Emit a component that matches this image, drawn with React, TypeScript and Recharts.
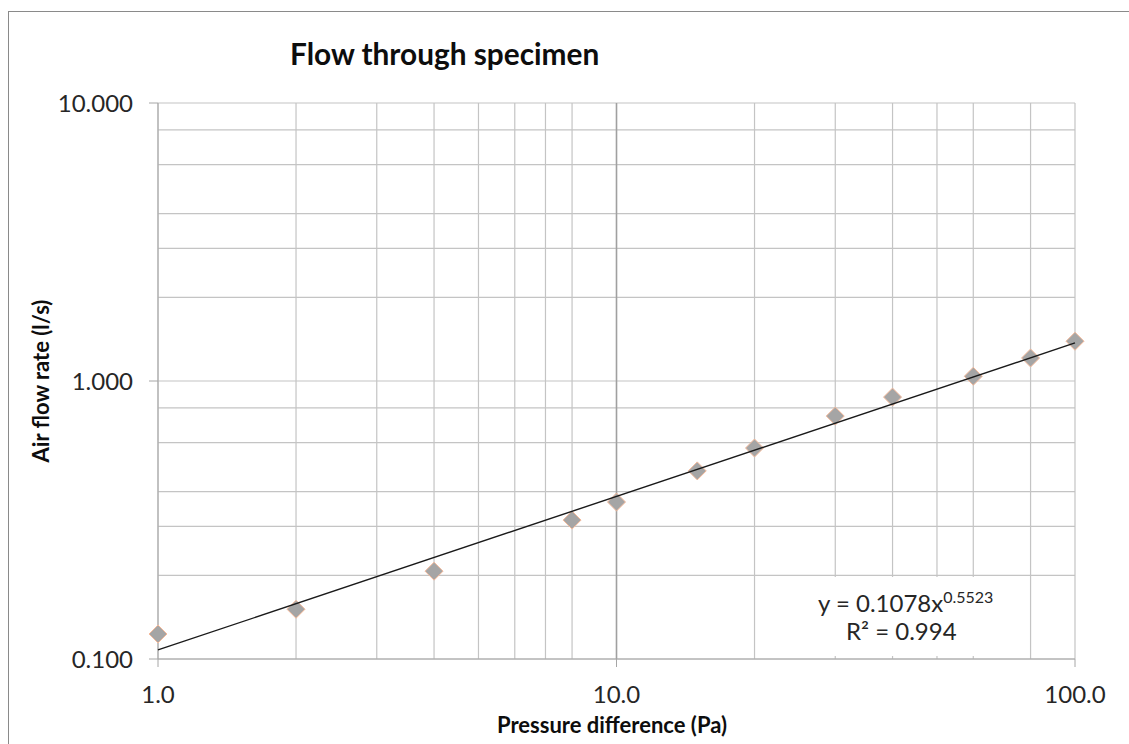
import React from 'react';
import { ScatterChart, Scatter, XAxis, YAxis, CartesianGrid, ReferenceLine } from 'recharts';

const pressure = [1, 2, 4, 8, 10, 15, 20, 30, 40, 60, 80, 100];
const flow = [0.123, 0.151, 0.207, 0.316, 0.367, 0.475, 0.574, 0.748, 0.875, 1.04, 1.21, 1.39];
const trendX = [1, 100];
const trendY = [0.1078, 1.371];
const xTicks = [1, 10, 100];
const yTicks = [0.1, 1, 10];
const xGrid = [1, 2, 3, 4, 5, 6, 7, 8, 9, 10, 20, 30, 40, 50, 60, 70, 80, 90, 100];
const yGrid = [0.1, 0.2, 0.3, 0.4, 0.5, 0.6, 0.7, 0.8, 0.9, 1, 2, 3, 4, 5, 6, 7, 8, 9, 10];

const points = pressure.map((x, i) => ({ x, y: flow[i] }));
const trend = trendX.map((x, i) => ({ x, y: trendY[i] }));

const FONT = 'Lato, "Open Sans", sans-serif';

const Diamond = (props: any) => {
  const { cx, cy } = props;
  if (cx == null || cy == null) return <g />;
  const r = 9;
  return (
    <polygon
      points={`${cx},${cy - r} ${cx + r},${cy} ${cx},${cy + r} ${cx - r},${cy}`}
      fill="#a5a5a5"
      stroke="#f4b99a"
      strokeWidth={1}
    />
  );
};

export default function App() {
  return (
    <div style={{ position: 'fixed', left: 0, top: 0, width: 1129, height: 744, overflow: 'hidden', background: '#fff', fontFamily: FONT }}>
      <div style={{ position: 'absolute', left: 8, top: 11, width: 1140, height: 760, border: '1px solid #8a8a8a', boxSizing: 'border-box' }} />
      <div style={{ position: 'absolute', left: 0, top: 0 }}>
        <ScatterChart width={1129} height={744} margin={{ top: 103, right: 54, bottom: 25, left: 9 }}>
          <CartesianGrid stroke="#c4c4c4" strokeWidth={1.2} verticalValues={xGrid} horizontalValues={yGrid} />
          <ReferenceLine x={10} stroke="#a0a0a0" strokeWidth={1.5} />
          <XAxis
            dataKey="x"
            type="number"
            scale="log"
            domain={[1, 100]}
            ticks={xTicks}
            tickFormatter={(v: number) => v.toFixed(1)}
            tickSize={8}
            tickMargin={19}
            height={60}
            stroke="#a6a6a6"
            tick={{ fill: '#262626', fontSize: 24, fontFamily: FONT }}
          />
          <YAxis
            dataKey="y"
            type="number"
            scale="log"
            domain={[0.1, 10]}
            ticks={yTicks}
            tickFormatter={(v: number) => v.toFixed(3)}
            tickSize={9}
            tickMargin={16}
            width={149}
            stroke="#a6a6a6"
            tick={{ fill: '#262626', fontSize: 24, fontFamily: FONT }}
          />
          <Scatter data={points} shape={<Diamond />} isAnimationActive={false} />
          <Scatter
            data={trend}
            line={{ stroke: '#1a1a1a', strokeWidth: 1.4 }}
            lineType="joint"
            shape={() => <g />}
            isAnimationActive={false}
          />
        </ScatterChart>
      </div>
      <div style={{ position: 'absolute', left: 290, top: 36, fontSize: 29.8, fontWeight: 700, color: '#0d0d0d', whiteSpace: 'nowrap' }}>
        Flow through specimen
      </div>
      <div style={{ position: 'absolute', left: 612, top: 711, transform: 'translateX(-50%)', fontSize: 22, fontWeight: 700, color: '#0d0d0d', whiteSpace: 'nowrap' }}>
        Pressure difference (Pa)
      </div>
      <div style={{ position: 'absolute', left: 40, top: 381, transform: 'translate(-50%, -50%) rotate(-90deg)', fontSize: 22, fontWeight: 700, color: '#0d0d0d', whiteSpace: 'nowrap' }}>
        Air flow rate (l/s)
      </div>
      <div style={{ position: 'absolute', left: 760, top: 577, width: 240, height: 79, background: '#fff', color: '#262626', fontSize: 24, lineHeight: '28px', boxSizing: 'border-box' }}>
        <div style={{ position: 'absolute', left: 58, top: 12, whiteSpace: 'nowrap' }}>y = 0.1078x<sup style={{ fontSize: 16, verticalAlign: 'top', position: 'relative', top: -6 }}>0.5523</sup></div>
        <div style={{ position: 'absolute', left: 86, top: 40, whiteSpace: 'nowrap' }}>R² = 0.994</div>
      </div>
    </div>
  );
}
